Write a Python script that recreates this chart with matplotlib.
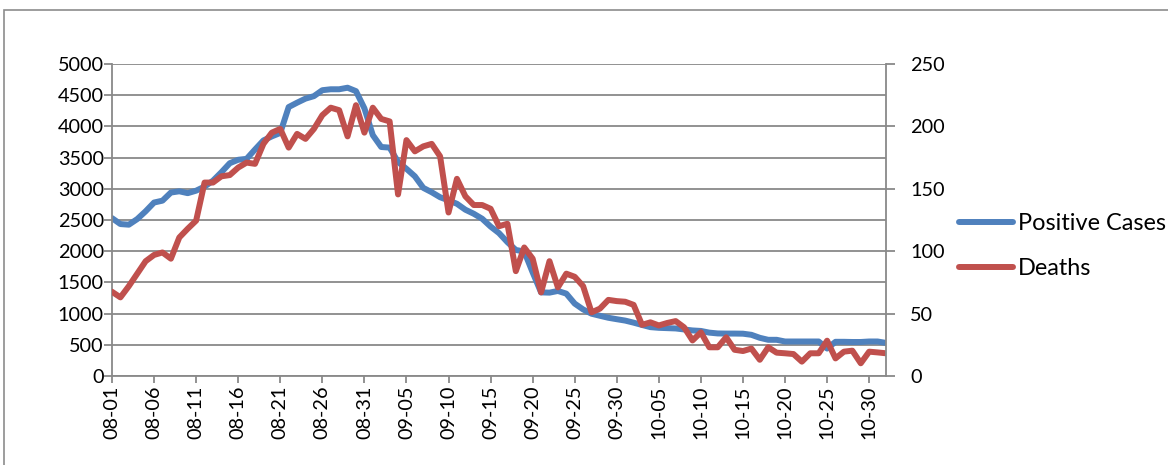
import matplotlib
matplotlib.use("Agg")
import matplotlib.pyplot as plt
import numpy as np
import pandas as pd
from matplotlib.patches import Rectangle

# ---- data ----
dates = pd.date_range("2020-08-01", "2020-11-01", freq="D").strftime("%m-%d").tolist()

positive_cases = [
    2530, 2435, 2425, 2515, 2640, 2780, 2810, 2940, 2960, 2930,
    2970, 3035, 3130, 3265, 3410, 3465, 3480, 3630, 3775, 3840,
    3895, 4310, 4380, 4445, 4485, 4580, 4595, 4595, 4620, 4565,
    4290, 3860, 3670, 3660, 3430, 3320, 3200, 3015, 2945, 2865,
    2815, 2760, 2665, 2600, 2520, 2395, 2290, 2145, 2020, 1995,
    1660, 1340, 1336, 1363, 1320, 1160, 1067, 998, 965, 933,
    910, 888, 855, 818, 783, 772, 767, 762, 746, 730,
    722, 695, 682, 680, 680, 678, 660, 612, 580, 580,
    553, 553, 553, 553, 553, 440, 548, 548, 545, 545,
    553, 553, 530,
]

deaths = [
    67.5, 63, 72, 82, 92, 97, 99, 94, 111, 118,
    124.5, 155, 155, 160, 161, 167, 171, 170, 186, 195,
    198, 183, 194, 190, 198, 209, 215, 213, 192, 217,
    195, 215, 206, 204, 145.5, 189, 180, 184, 186, 176,
    131, 158, 144, 137, 137, 134, 120, 122, 84, 103,
    94, 67, 92, 71, 82, 79.5, 72, 51, 54, 61,
    60, 59.5, 57, 41, 43, 40.5, 42.5, 44, 39, 28.5,
    35, 23, 23, 31, 21, 20, 22, 13, 23, 18.7,
    18.2, 17.6, 11.5, 18.2, 18.2, 28.3, 14.1, 19.5, 20.3, 10.2,
    19.5, 18.9, 18.2,
]

series_names = ["Positive Cases", "Deaths"]
left_ticks = [0, 500, 1000, 1500, 2000, 2500, 3000, 3500, 4000, 4500, 5000]
right_ticks = [0, 50, 100, 150, 200, 250]

# ---- style ----
W, H = 1168, 465
DPI = 100
BLUE = "#4F81BD"
RED = "#C0504D"
GRID = "#898989"
FONT = "Lato"
FS = 14.3
LFS = 16.9

plt.rcParams["font.family"] = [FONT, "DejaVu Sans"]

fig = plt.figure(figsize=(W / DPI, H / DPI), dpi=DPI)
fig.patch.set_facecolor("white")

# outer chart-area border
fig.add_artist(Rectangle((4 / W, -0.1), 1.2, 1 - 10 / H + 0.1, transform=fig.transFigure,
                         fill=False, edgecolor="#8c8c8c", linewidth=1.2))

left, right, top, bottom = 112 / W, 886 / W, 64 / H, 376 / H
ax = fig.add_axes([left, 1 - bottom, right - left, bottom - top])
ax2 = ax.twinx()

x = np.arange(len(dates))
l1, = ax.plot(x, positive_cases, color=BLUE, lw=4.3, solid_joinstyle="round",
              solid_capstyle="round", label=series_names[0])
l2, = ax2.plot(x, deaths, color=RED, lw=4.3, solid_joinstyle="round",
               solid_capstyle="round", label=series_names[1])

ax.set_xlim(0, len(dates) - 1)
ax.set_ylim(0, 5000)
ax2.set_ylim(0, 250)
ax.set_yticks(left_ticks)
ax2.set_yticks(right_ticks)
ax.set_xticks(x[::5])
ax.set_xticklabels(dates[::5], rotation=90)

ax.yaxis.grid(True, color=GRID, lw=1.3)
ax.set_axisbelow(True)

for a in (ax, ax2):
    for s in a.spines.values():
        s.set_visible(False)
    a.set_facecolor("none")
ax.spines["left"].set_visible(True)
ax.spines["left"].set_color(GRID)
ax.spines["left"].set_linewidth(1.3)
ax.spines["bottom"].set_visible(True)
ax.spines["bottom"].set_color(GRID)
ax.spines["bottom"].set_linewidth(1.3)
ax2.spines["right"].set_visible(True)
ax2.spines["right"].set_color(GRID)
ax2.spines["right"].set_linewidth(1.3)

ax.tick_params(axis="y", length=6, width=1.3, color=GRID, pad=0, labelsize=FS)
ax2.tick_params(axis="y", length=6.5, width=1.3, color=GRID, pad=11, labelsize=FS)
ax.tick_params(axis="x", length=5, width=1.3, color=GRID, pad=2, labelsize=FS)

ax2.set_zorder(ax.get_zorder() + 1)

fig.legend(handles=[l1, l2], labels=series_names, loc="center left",
           bbox_to_anchor=(959 / W, 1 - 246 / H), frameon=False, fontsize=LFS,
           handlelength=2.3, handletextpad=0.2, labelspacing=1.02,
           borderpad=0, borderaxespad=0)

fig.savefig("out.png", dpi=DPI)
